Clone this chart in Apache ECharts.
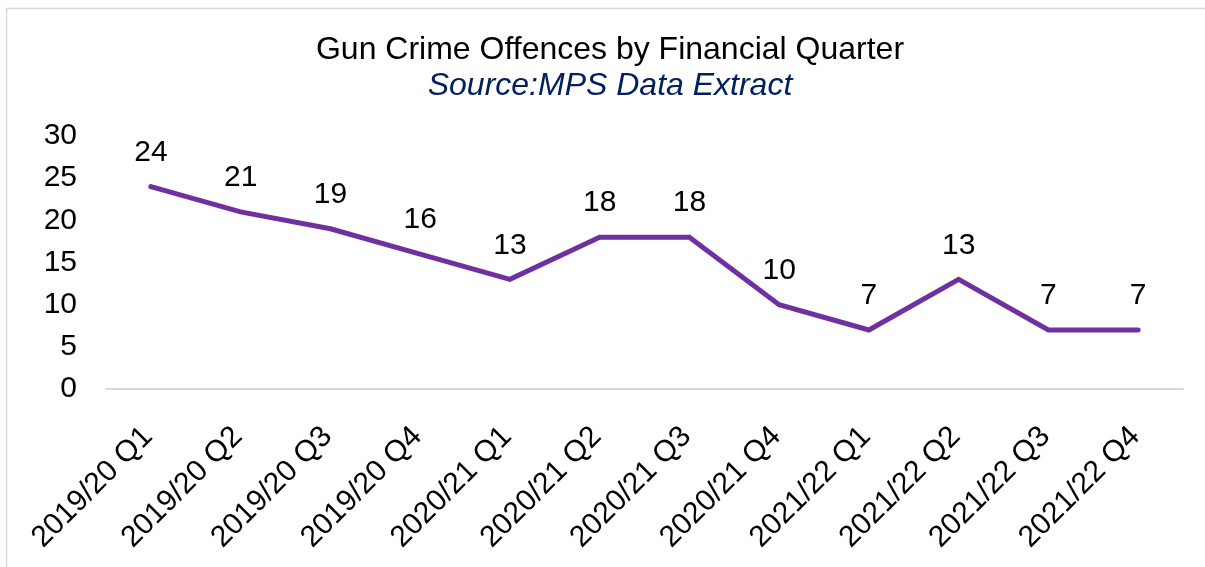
<!DOCTYPE html>
<html>
<head>
<meta charset="utf-8">
<title>Gun Crime Offences by Financial Quarter</title>
<script src="https://cdn.jsdelivr.net/npm/echarts@6/dist/echarts.min.js"></script>
<style>
  html, body { margin: 0; padding: 0; background: #ffffff; }
  #chart { width: 1205px; height: 567px; }
</style>
</head>
<body>
<div id="chart"></div>
<script>
// Financial quarters on the category axis
const quarters = [
  '2019/20 Q1', '2019/20 Q2', '2019/20 Q3', '2019/20 Q4',
  '2020/21 Q1', '2020/21 Q2', '2020/21 Q3', '2020/21 Q4',
  '2021/22 Q1', '2021/22 Q2', '2021/22 Q3', '2021/22 Q4'
];

// Gun crime offences recorded in each quarter
const offences = [24, 21, 19, 16, 13, 18, 18, 10, 7, 13, 7, 7];

// Value axis range
const yMin = 0;
const yMax = 30;
const yStep = 5;

const FONT = '"Liberation Sans", Arial, sans-serif';
const PURPLE = '#7030A0';

const chart = echarts.init(document.getElementById('chart'), null, { renderer: 'canvas' });

chart.setOption({
  backgroundColor: '#ffffff',
  animation: false,
  graphic: [{
    type: 'rect',
    silent: true,
    shape: { x: 6.5, y: 8.5, width: 1220, height: 600 },
    style: { fill: 'none', stroke: '#D9D9D9', lineWidth: 1.5 }
  }],
  title: {
    text: 'Gun Crime Offences by Financial Quarter',
    subtext: 'Source:MPS Data Extract',
    left: 605,
    textAlign: 'center',
    top: 29,
    itemGap: 4,
    textStyle: { fontFamily: FONT, fontSize: 32, fontWeight: 'normal', color: '#000000' },
    subtextStyle: { fontFamily: FONT, fontSize: 32, fontStyle: 'italic', color: '#002060' }
  },
  grid: { left: 106, right: 22, top: 136, bottom: 178, containLabel: false },
  xAxis: {
    type: 'category',
    data: quarters,
    boundaryGap: true,
    axisLine: { show: true, lineStyle: { color: '#D9D9D9', width: 2 } },
    axisTick: { show: false },
    axisLabel: {
      rotate: 45,
      interval: 0,
      margin: 40,
      padding: [0, 4, 0, 0],
      fontFamily: FONT,
      fontSize: 30,
      color: '#000000'
    },
    splitLine: { show: false }
  },
  yAxis: {
    type: 'value',
    min: yMin,
    max: yMax,
    interval: yStep,
    axisLine: { show: false },
    axisTick: { show: false },
    splitLine: { show: false },
    axisLabel: {
      margin: 29,
      fontFamily: FONT,
      fontSize: 30,
      color: '#000000'
    }
  },
  series: [{
    type: 'line',
    data: offences,
    symbol: 'circle',
    showSymbol: true,
    symbolSize: 4,
    itemStyle: { color: PURPLE, borderWidth: 0 },
    smooth: false,
    lineStyle: { color: PURPLE, width: 5, cap: 'round', join: 'miter' },
    label: {
      show: true,
      position: 'top',
      distance: 17,
      fontFamily: FONT,
      fontSize: 30,
      color: '#000000'
    },
    labelLayout: { hideOverlap: false }
  }]
});
</script>
</body>
</html>
